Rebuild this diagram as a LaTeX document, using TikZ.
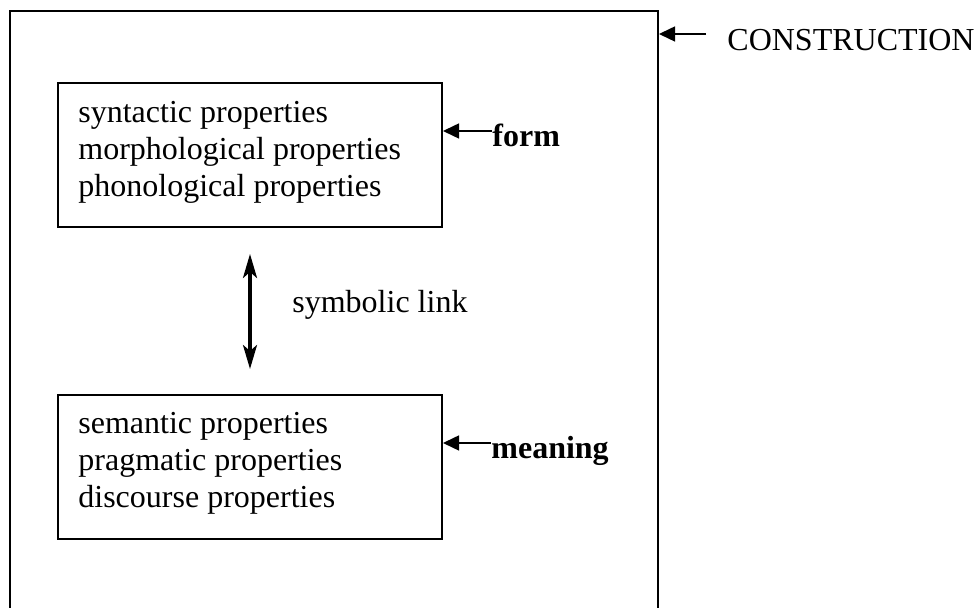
\documentclass[tikz,border=0pt]{standalone}
\usepackage{fontspec}
\setmainfont{Liberation Serif}
\usetikzlibrary{arrows.meta,calc}
\begin{document}
\begin{tikzpicture}[x=0.5pt,y=-0.5pt,
  frame/.style={draw,line width=1pt,minimum width=192pt,minimum height=72pt,inner sep=0pt},
  txt/.style={font=\fontsize{16}{18.5}\selectfont,anchor=base west,inner sep=0pt},
  prop/.style={txt,align=left},
  pointer/.style={line width=0.75pt,-{Triangle[length=8pt,width=7.5pt]}},
  linkarrow/.style={line width=1.6pt,{Stealth[length=12pt,width=7pt,inset=3pt]}-{Stealth[length=12pt,width=7pt,inset=3pt]}}]

\useasboundingbox (0,0) rectangle (975,608);
\clip (0,0) rectangle (975,608);

% the whole construction; its lower edge runs off the page
\node[draw,line width=1pt,minimum width=324pt,minimum height=320pt,inner sep=0pt] (cxn) at (334,331) {};

% form and meaning poles
\node[frame] (formbox) at (250,155) {};
\node[frame] (meanbox) at (250,467) {};

% the base anchor of a multi-line node sits on its last line
\node[prop] (formtext) at (78,197) {syntactic properties\\morphological properties\\phonological properties};
\node[prop] (meantext) at (78,508) {semantic properties\\pragmatic properties\\discourse properties};

% labels
\node[txt] (cxnlbl) at (727,51) {CONSTRUCTION};
\node[txt,font=\fontsize{16}{18.5}\selectfont\bfseries] (formlbl) at (492,147) {form};
\node[txt,font=\fontsize{16}{18.5}\selectfont\bfseries] (meanlbl) at (491,459) {meaning};
\node[txt] (linklbl) at (292,313) {symbolic link};

% pointers from the labels
\coordinate (cxntail) at ($(cxnlbl.base west)+(-21,-17)$);
\coordinate (formtail) at ($(formlbl.base west)+(0,-16)$);
\coordinate (meantail) at ($(meanlbl.base west)+(0,-16)$);
\draw[pointer] (cxntail) -- (cxntail -| cxn.east);
\draw[pointer] (formtail) -- (formtail -| formbox.east);
\draw[pointer] (meantail) -- (meantail -| meanbox.east);

% symbolic link between the poles
\draw[linkarrow,shorten <=13pt,shorten >=12.5pt] (formbox.south) -- (meanbox.north);
\end{tikzpicture}
\end{document}
